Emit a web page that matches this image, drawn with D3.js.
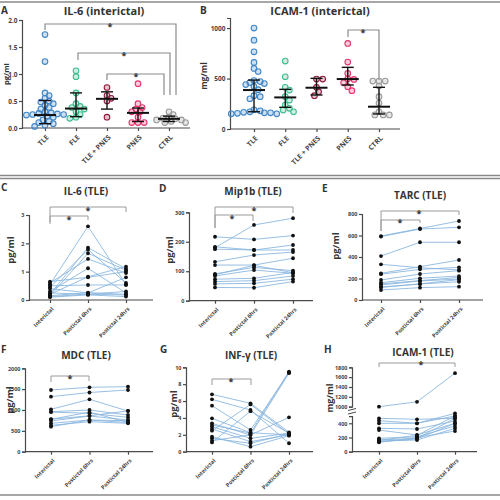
<!DOCTYPE html>
<html><head><meta charset="utf-8">
<script src="https://cdn.jsdelivr.net/npm/d3@7"></script>
<style>
body{margin:0;background:#fff}
svg{display:block}
text{font-family:"Open Sans",sans-serif;font-weight:700;fill:#333}
</style>
</head><body><svg id="c" width="500" height="500"></svg>
<script>
// ---------- DATA ----------
const groups = ["TLE","FLE","TLE + PNES","PNES","CTRL"];
const groupColors = ["#3f86c8","#3dbd8e","#8c1c3c","#e2356c","#9a9a9a"];

// A: IL-6 interictal (pg/ml)
const il6TLE = [1.73,1.23,0.65,0.60,0.55,0.50,0.48,0.45,0.42,0.38,0.35,0.30,0.28,0.27,0.26,0.25,0.25,0.24,0.22,0.20,0.15,0.12,0.10,0.08,0.05,0.03];
const il6FLE = [1.06,0.95,0.65,0.45,0.40,0.38,0.35,0.30,0.25,0.20,0.18];
const il6TLEPNES = [0.75,0.60,0.55,0.50,0.20];
const il6PNES = [0.82,0.45,0.38,0.35,0.30,0.30,0.20,0.10,0.10,0.10];
const il6CTRL = [0.30,0.25,0.20,0.18,0.17,0.15,0.15,0.12,0.10,0.10];
const il6Median = [0.24,0.36,0.54,0.28,0.17];
const il6Q1 = [0.08,0.21,0.35,0.12,0.12];
const il6Q3 = [0.51,0.65,0.67,0.37,0.22];
const il6Ticks = [0,0.5,1.0,1.5,2.0];

// B: ICAM-1 interictal (mg/ml)
const icamTLE = [1000,880,765,660,600,570,480,470,460,450,440,420,390,330,320,300,190,180,170,165,160,160,155,150,150];
const icamFLE = [673,518,413,386,320,287,238,205,188,171];
const icamTLEPNES = [495,495,413,370,330];
const icamPNES = [848,663,551,498,491,458,419,380];
const icamCTRL = [475,475,475,426,320,257,171,139,139,139];
const icamMedian = [386,313,409,495,221];
const icamQ1 = [171,215,337,436,149];
const icamQ3 = [485,393,502,611,413];
const icamTicks = [0,500,1000];

// C-H: paired TLE time course
const timepoints = ["Interictal","Postictal 6hrs","Postictal 24hrs"];

const il6Interictal = [0.55,0.20,0.45,0.15,0.60,0.30,0.20,0.65,0.50,0.15,0.12,0.10,0.40,0.25];
const il6Post6 = [2.60,1.85,1.78,1.65,1.45,1.12,0.82,0.80,0.53,0.26,0.21,0.18,0.25,0.20];
const il6Post24 = [0.55,1.10,0.60,1.05,0.95,0.25,1.18,1.00,0.53,0.20,0.30,0.12,0.80,0.18];

const mipInterictal = [180,217,175,183,132,121,91,84,73,65,57,45,88];
const mipPost6 = [257,208,172,172,155,121,113,104,76,68,59,44,120];
const mipPost24 = [280,221,189,172,165,144,102,93,96,84,73,65,95];

const tarcInterictal = [595,590,409,332,248,240,186,161,140,118,93,150,120];
const tarcPost6 = [665,660,537,300,310,285,242,202,177,149,115,180,150];
const tarcPost24 = [735,676,537,280,372,304,273,223,195,170,124,210,190];

const mdcInterictal = [1480,1320,1016,960,950,776,736,680,632,600,780];
const mdcPost6 = [1544,1420,1256,1000,920,950,856,760,720,760,860];
const mdcPost24 = [1560,1480,976,880,824,700,760,744,680,700,980];

const infInterictal = [6.8,6.2,5.45,3.95,3.36,3.16,2.96,2.69,2.49,1.78,1.58,1.3,1.1];
const infPost6 = [5.73,4.94,2.57,2.25,1.98,2.2,1.58,1.19,5.6,0.59,1.0,2.0,4.8];
const infPost24 = [2.3,1.0,9.4,2.0,4.07,9.49,2.2,2.0,2.1,1.9,2.1,9.3,2.2];

const icamTInterictal = [1000,470,437,400,329,305,188,165,150,132,160,140];
const icamTPost6 = [1100,456,400,400,320,235,211,188,165,200,230,180];
const icamTPost24 = [1680,470,540,503,432,400,362,470,329,291,503,400];

// ---------- DRAW ----------
const svg = d3.select("#c");
const AX = "#4a4a4a";

// frame lines
[[2,1.6],[175.5,1.4],[178.5,1.4],[495,1.6]].forEach(([y,w])=>{
  svg.append("line").attr("x1",0).attr("x2",500).attr("y1",y).attr("y2",y)
    .attr("stroke","#8a8a8a").attr("stroke-width",w);
});

function styleAxis(a, fs){
  a.selectAll("path,line").attr("stroke",AX).attr("stroke-width",1.2);
  a.selectAll("text").style("font-size",fs+"px").style("fill","#444").style("font-weight",700);
}
function leftAxis(x, scale, ticks, fmt, fs){
  const a = svg.append("g").attr("transform",`translate(${x},0)`)
    .call(d3.axisLeft(scale).tickValues(ticks).tickSize(3).tickPadding(1.5).tickFormat(fmt));
  styleAxis(a, fs);
  return a;
}
function bottomAxis(x0, xEnd, y, xScale, fs, tx, ty){
  svg.append("line").attr("x1",x0).attr("x2",xEnd).attr("y1",y).attr("y2",y)
    .attr("stroke",AX).attr("stroke-width",1.2);
  const a = svg.append("g").attr("transform",`translate(0,${y})`)
    .call(d3.axisBottom(xScale).tickSize(3));
  a.select(".domain").remove();
  styleAxis(a, fs);
  a.selectAll("text").attr("x",0).attr("y",0).attr("dy","0.35em")
    .attr("text-anchor","end").attr("transform",`translate(${tx},${ty}) rotate(-45)`);
}
function label(x,y,t,fs,opts={}){
  const e = svg.append("text").attr("x",x).attr("y",y).text(t).style("font-size",fs+"px");
  if(opts.anchor) e.attr("text-anchor",opts.anchor);
  if(opts.fill) e.style("fill",opts.fill);
  return e;
}
function yLabel(x,y,t,fs){
  svg.append("text").attr("transform",`translate(${x},${y}) rotate(-90)`)
    .attr("text-anchor","middle").text(t).style("font-size",fs+"px");
}
function bracket(xl, xr, y, yl, yr, starX, starY, color, w){
  svg.append("path").attr("d",`M${xl},${yl}V${y}H${xr}V${yr}`)
    .attr("fill","none").attr("stroke",color).attr("stroke-width",w);
  svg.append("text").attr("x",starX).attr("y",starY).attr("text-anchor","middle")
    .text("*").style("font-size","9px").style("fill","#333");
}
function swarm(vals, yS, cx, sep){
  const pts = vals.map(v=>({v, y:yS(v)})).sort((a,b)=>a.y-b.y);
  const placed = [];
  pts.forEach(p=>{
    for(let k=0;k<60;k++){
      const off = (k%2===1?1:-1)*Math.ceil(k/2)*sep*0.45;
      const x = cx+off;
      if(placed.every(q=>(q.x-x)**2+(q.y-p.y)**2 >= sep*sep)){ p.x=x; break; }
    }
    if(p.x===undefined) p.x=cx;
    placed.push(p);
  });
  return placed;
}

// ----- scatter panels (A, B) -----
function scatterPanel(cfg){
  const y = d3.scaleLinear().domain(cfg.domain).range(cfg.yRange);
  const x = d3.scalePoint().domain(groups).range(cfg.xRange);
  leftAxis(cfg.ax, y, cfg.ticks, cfg.fmt, 6.5);
  bottomAxis(cfg.ax, cfg.xEnd, cfg.yRange[0], x, 7, 2, 8);
  cfg.brackets.forEach(b=>bracket(b[0],b[1],b[2],b[3],b[4],b[5],b[6],"#8a8a8a",1.2));
  cfg.data.forEach((vals,i)=>{
    const cx = x(groups[i]);
    const pts = swarm(vals, y, cx, 4.6);
    svg.append("g").selectAll("circle").data(pts).join("circle")
      .attr("cx",d=>d.x).attr("cy",d=>d.y).attr("r",2.8)
      .attr("fill",groupColors[i]).attr("fill-opacity",0.25)
      .attr("stroke",groupColors[i]).attr("stroke-width",1.1);
    const gm = svg.append("g").attr("stroke","#111");
    gm.append("line").attr("x1",cx).attr("x2",cx).attr("y1",y(cfg.q1[i])).attr("y2",y(cfg.q3[i])).attr("stroke-width",1.4);
    [cfg.q1[i],cfg.q3[i]].forEach(v=>gm.append("line").attr("x1",cx-6).attr("x2",cx+6).attr("y1",y(v)).attr("y2",y(v)).attr("stroke-width",1.4));
    gm.append("line").attr("x1",cx-11).attr("x2",cx+11).attr("y1",y(cfg.median[i])).attr("y2",y(cfg.median[i])).attr("stroke-width",2);
  });
  label(cfg.titleX, cfg.titleY, cfg.title, 11, {anchor:"middle"});
}

scatterPanel({
  ax:22, xEnd:190, domain:[0,2], yRange:[128,20], xRange:[45,169],
  ticks:il6Ticks, fmt:d3.format(".1f"),
  data:[il6TLE,il6FLE,il6TLEPNES,il6PNES,il6CTRL],
  median:il6Median, q1:il6Q1, q3:il6Q3,
  title:"IL-6 (interictal)", titleX:104, titleY:15,
  brackets:[[45,176,24,30,95,110,30],[78,170,53,60,95,124,59],[107,164,74,80,95,136,80]]
});
scatterPanel({
  ax:230, xEnd:400, domain:[0,1100], yRange:[129,18], xRange:[254,379],
  ticks:icamTicks, fmt:d3.format("d"),
  data:[icamTLE,icamFLE,icamTLEPNES,icamPNES,icamCTRL],
  median:icamMedian, q1:icamQ1, q3:icamQ3,
  title:"ICAM-1 (interictal)", titleX:320, titleY:15,
  brackets:[[348,379,30,37,80,363,36]]
});
yLabel(8.5,74,"pg/ml",7.5);
yLabel(207,76,"mg/ml",8.5);
label(1,14,"A",10); label(200,14,"B",10);

// ----- paired panels (C-H) -----
function pairedPanel(cfg){
  const x = d3.scalePoint().domain(timepoints).range(cfg.xRange);
  cfg.axes.forEach(a=>leftAxis(cfg.ax, a.scale, a.ticks, d3.format("d"), 5.5));
  const yf = cfg.yf;
  bottomAxis(cfg.ax, cfg.xEnd, cfg.y0, x, 5.5, 2, 8);
  (cfg.brackets||[]).forEach(b=>bracket(b[0],b[1],b[2],b[3],b[4],b[5],b[6],"#9a9a9a",1));
  const subjects = cfg.series[0].map((_,i)=>cfg.series.map((s,j)=>({t:timepoints[j], v:s[i]})));
  const line = d3.line().x(d=>x(d.t)).y(d=>yf(d.v));
  svg.append("g").selectAll("path").data(subjects).join("path")
    .attr("d",line).attr("fill","none").attr("stroke","#86b4de")
    .attr("stroke-width",1).attr("stroke-opacity",0.85);
  svg.append("g").selectAll("circle").data(subjects.flat()).join("circle")
    .attr("cx",d=>x(d.t)).attr("cy",d=>yf(d.v)).attr("r",1.9).attr("fill","#111");
  label(cfg.titleX, cfg.titleY, cfg.title, 10, {anchor:"middle"});
}
function simple(domain, range, ticks){
  const s = d3.scaleLinear().domain(domain).range(range);
  return {scale:s, ticks, f:s};
}

let s;
s = simple([0,3],[300,215],[0,1,2,3]);
pairedPanel({ax:29, xEnd:153, y0:300, xRange:[50,126], axes:[s], yf:s.f,
  series:[il6Interictal,il6Post6,il6Post24], title:"IL-6 (TLE)", titleX:86, titleY:195,
  brackets:[[50,126,207,224,212,88,214],[50,88,216,222,220,69,223]]});
s = simple([0,300],[300.7,212.3],[0,100,200,300]);
pairedPanel({ax:189, xEnd:313, y0:300.7, xRange:[215,293], axes:[s], yf:s.f,
  series:[mipInterictal,mipPost6,mipPost24], title:"Mip1b (TLE)", titleX:253, titleY:195,
  brackets:[[215,293,207,228,213,254,214],[215,253,215,228,221,232,222]]});
s = simple([0,800],[300,214],[0,200,400,600,800]);
pairedPanel({ax:362, xEnd:483, y0:300, xRange:[381,459], axes:[s], yf:s.f,
  series:[tarcInterictal,tarcPost6,tarcPost24], title:"TARC (TLE)", titleX:420, titleY:199,
  brackets:[[381,459,211,231,215,419,217],[381,420,220,231,223,400,226]]});
s = simple([0,2000],[451.7,368.3],[0,500,1000,1500,2000]);
pairedPanel({ax:25, xEnd:153, y0:451.7, xRange:[51,128], axes:[s], yf:s.f,
  series:[mdcInterictal,mdcPost6,mdcPost24], title:"MDC (TLE)", titleX:86, titleY:359,
  brackets:[[51,89,376,382,381,70,382]]});
s = simple([0,10],[451.7,367.3],[0,2,4,6,8,10]);
pairedPanel({ax:186, xEnd:313, y0:451.7, xRange:[212,289], axes:[s], yf:s.f,
  series:[infInterictal,infPost6,infPost24], title:"INF-γ (TLE)", titleX:251, titleY:359,
  brackets:[[212,251,379,385,385,231,385]]});
// H: broken axis
const hLow = d3.scaleLinear().domain([0,500]).range([451.7,416.2]);
const hUp = d3.scaleLinear().domain([1000,1800]).range([406.7,367.3]);
const hY = v => v >= 900 ? hUp(v) : hLow(v);
pairedPanel({ax:352, xEnd:477, y0:451.7, xRange:[379,455],
  axes:[{scale:hLow,ticks:[0,200,400]},{scale:hUp,ticks:[1000,1200,1400,1600,1800]}], yf:hY,
  series:[icamTInterictal,icamTPost6,icamTPost24], title:"ICAM-1 (TLE)", titleX:423, titleY:356,
  brackets:[[379,455,363,367,367,421,368]]});
// break marks
[409.5,413].forEach(yy=>svg.append("line").attr("x1",348).attr("x2",356).attr("y1",yy+1).attr("y2",yy-1)
  .attr("stroke",AX).attr("stroke-width",1));

yLabel(14,250,"pg/ml",9.5);
yLabel(173,250,"pg/ml",9.5);
yLabel(339,246,"pg/ml",9.5);
yLabel(13,400,"pg/ml",9.5);
yLabel(177,404,"pg/ml",9.5);
yLabel(333,398,"mg/ml",9);
label(1,191,"C",10); label(159,192,"D",10); label(322,192,"E",10);
label(1,353,"F",10); label(160,353,"G",10); label(324,353,"H",10);
</script>
</body></html>
